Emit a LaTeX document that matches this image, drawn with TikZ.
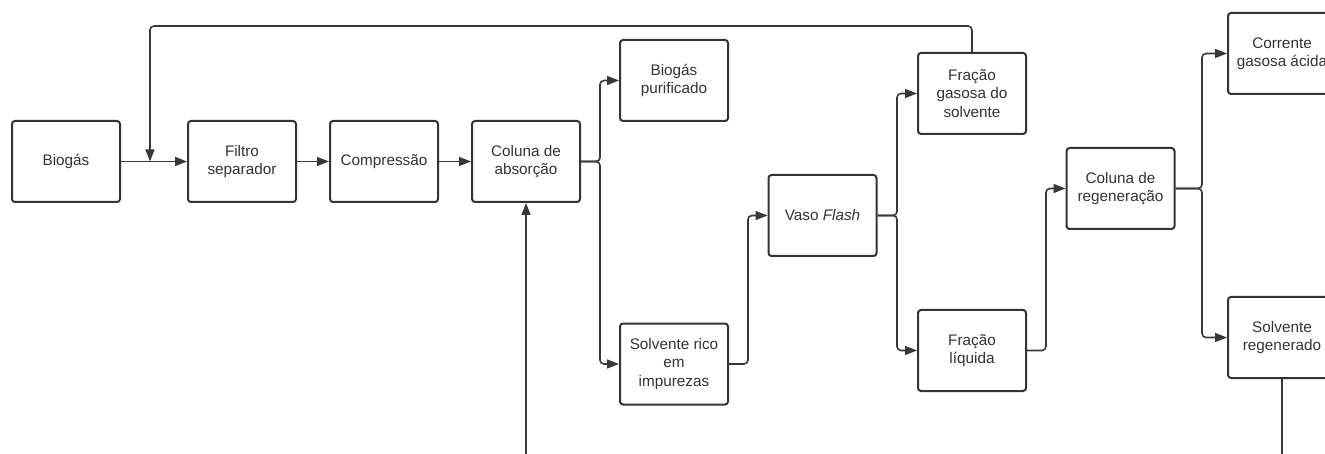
\documentclass[tikz,border=0pt]{standalone}
\usepackage{fontspec}
\setmainfont{Liberation Sans}
\usetikzlibrary{arrows.meta}
\definecolor{ink}{HTML}{333333}
\definecolor{wire}{HTML}{383838}
\begin{document}
\begin{tikzpicture}[x=1pt,y=-1pt,
  block/.style={draw=ink, line width=2pt, rounded corners=3pt, fill=white,
    minimum width=108pt, minimum height=81pt, inner sep=2pt,
    align=center, text=ink, font=\fontsize{15.3}{18.3}\selectfont},
  flow/.style={draw=wire, line width=1.6pt, rounded corners=4pt,
    -{Triangle[length=12pt,width=9pt]}},
  feed/.style={draw=wire, line width=1.6pt, rounded corners=4pt}]
\useasboundingbox (0,0) rectangle (1325,454);
\clip (0,0) rectangle (1325,454);
\fill[white] (0,0) rectangle (1325,454);

% process blocks
\node[block] (bio)   at (66,161.5)    {Biogás};
\node[block] (filt)  at (242,161.5)   {Filtro\\separador};
\node[block] (comp)  at (384,161.5)   {Compressão};
\node[block] (col)   at (526,161.5)   {Coluna de\\absorção};
\node[block] (pur)   at (674,80.5)    {Biogás\\purificado};
\node[block] (rico)  at (674,364)     {Solvente rico\\em\\impurezas};
\node[block] (flash) at (822.5,215.5) {Vaso \textit{Flash}};
\node[block] (gas)   at (972,93.5)    {Fração\\gasosa do\\solvente};
\node[block] (liq)   at (972,350.5)   {Fração\\líquida};
\node[block] (reg)   at (1120.5,188.5){Coluna de\\regeneração};
\node[block] (acid)  at (1282,53.5)   {Corrente\\gasosa ácida};
\node[block] (regen) at (1282,337.5)  {Solvente\\regenerado};

% free ends and junctions
\coordinate (mix)   at (150,161.5);
\coordinate (solin) at (526,454);
\coordinate (solout) at (1282,454);

% main line
\draw[flow] (bio) -- (filt);
\draw[flow] (filt) -- (comp);
\draw[flow] (comp) -- (col);

% absorber outlets
\draw[flow] (col.east) -- (600,161.5) |- (pur.west);
\draw[flow] (col.east) -- (600,161.5) |- (rico.west);

% flash vessel
\draw[flow] (rico.east) -- (748,364) |- (flash.west);
\draw[flow] (flash.east) -- (897,215.5) |- (gas.west);
\draw[flow] (flash.east) -- (897,215.5) |- (liq.west);

% regeneration
\draw[flow] (liq.east) -- (1046,350.5) |- (reg.west);
\draw[flow] (reg.east) -- (1202,188.5) |- (acid.west);
\draw[flow] (reg.east) -- (1202,188.5) |- (regen.west);

% recycle of flash gas back to the inlet
\draw[flow] (gas.north) -- (972,26) -| (mix);

% regenerated solvent loop
\draw[flow] (solin) -- (col.south);
\draw[feed] (regen.south) -- (solout);
\end{tikzpicture}
\end{document}
